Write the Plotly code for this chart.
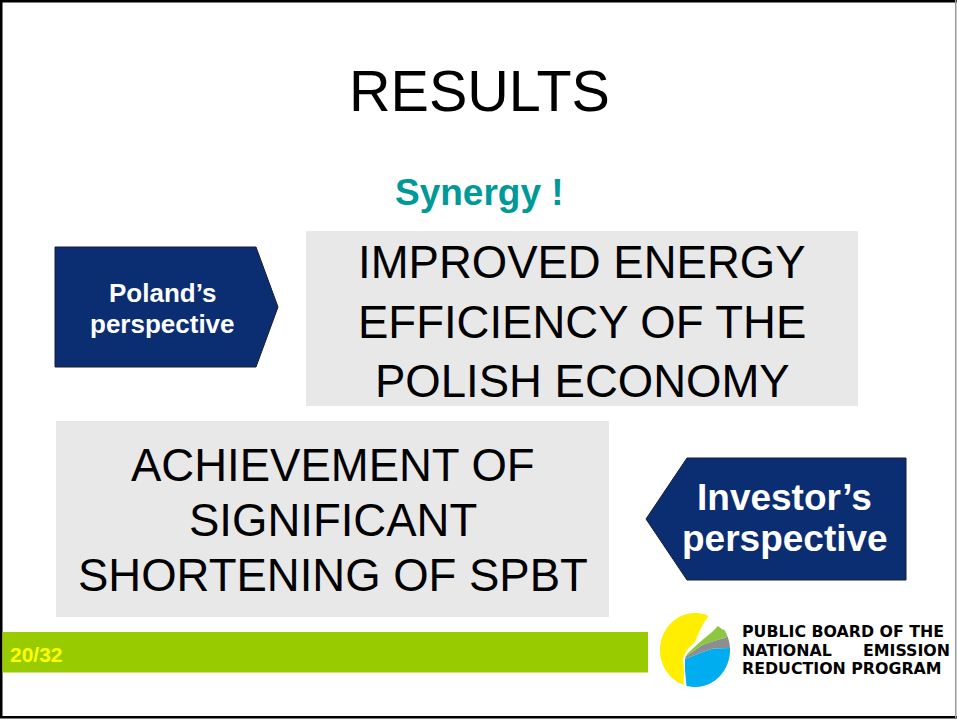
import numpy as np
import plotly.graph_objects as go

W, H = 957, 720

# ---- slide content ----
title_text = "RESULTS"
subtitle_text = "Synergy !"
box1_lines = ["IMPROVED ENERGY", "EFFICIENCY OF THE", "POLISH ECONOMY"]
box2_lines = ["ACHIEVEMENT OF", "SIGNIFICANT", "SHORTENING OF SPBT"]
left_arrow_lines = ["Poland’s", "perspective"]
right_arrow_lines = ["Investor’s", "perspective"]
page_label = "20/32"
logo_lines = ["PUBLIC BOARD OF THE", "NATIONAL", "EMISSION", "REDUCTION PROGRAM"]

FONT = "Liberation Sans, Arial, Helvetica, sans-serif"
LOGO_FONT = "DejaVu Sans, Liberation Sans, Arial, sans-serif"
NAVY = "#0B2D72"
GRAY_BOX = "#E8E8E8"
TEAL = "#009999"
GREEN_BAR = "#99CC00"

fig = go.Figure()
shapes = []
ann = []


def rect(x0, y0, x1, y1, color, line=None):
    shapes.append(dict(type="rect", xref="x", yref="y", x0=x0, y0=y0, x1=x1, y1=y1,
                       fillcolor=color, line=dict(width=0) if line is None else line,
                       layer="below"))


def poly(points, color, line=None):
    d = "M " + " L ".join(f"{x:.2f},{y:.2f}" for x, y in points) + " Z"
    shapes.append(dict(type="path", xref="x", yref="y", path=d, fillcolor=color,
                       line=dict(width=0) if line is None else line, layer="below"))


def arc(cx, cy, rx, ry, a0, a1, n=40):
    t = np.radians(np.linspace(a0, a1, n))
    return list(zip(cx + rx * np.cos(t), cy - ry * np.sin(t)))


def text(x, y, s, size, color="black", bold=False, xanchor="center", family=FONT):
    ann.append(dict(x=x, y=y, xref="x", yref="y", text=s, showarrow=False,
                    xanchor=xanchor, yanchor="middle",
                    font=dict(family=family, size=size, color=color,
                              weight="bold" if bold else "normal")))


# slide borders
rect(0, 0, W, 2.5, "black")
rect(0, 0, 2.5, 718, "black")
rect(0, 716, W, 718.5, "black")
rect(955, 0, 956.5, 718, "#9a9a9a")

# gray boxes
rect(306, 231, 858, 406, GRAY_BOX)
rect(56, 421, 609, 617, GRAY_BOX)

# arrows
edge = dict(color="#1c1c2c", width=1)
poly([(55, 247), (256, 247), (278, 307), (256, 367), (55, 367)], NAVY, edge)
poly([(906, 458), (687, 458), (646, 519), (687, 580), (906, 580)], NAVY, edge)

# green bar
rect(2.5, 632, 648, 672.5, GREEN_BAR)

# logo
cx, cy, rx, ry = 695, 650, 35, 37
yellow = arc(cx, cy, rx, ry, 67, 251) + [(684, 670), (683, 658), (687, 650),
                                         (695, 642), (700, 630), (705, 621)]
poly(yellow, "#FFEE00")
blue_top = [(685, 659), (700, 653), (713, 648.5)]
blue = blue_top + arc(cx, cy, rx, ry, 3, -104) + [(685, 670)]
poly(blue, "#00AEEF")
gray_top = [(686, 656), (703, 644.5), (717, 640), (726, 637.5)]
gray = gray_top + arc(cx, cy, rx, ry, 21.6, 3) + blue_top[::-1]
poly(gray, "#8C8E90")
green = [(688, 653), (700, 642), (712, 632), (718, 626), (723, 630)] + \
    arc(cx, cy, rx, ry, 34, 21.6) + gray_top[::-1]
poly(green, "#8DC63F")

# texts
text(479, 90.5, title_text, 57.5)
text(479, 192, subtitle_text, 37, TEAL, bold=True)
for yy, s in zip([262, 322, 381], box1_lines):
    text(582, yy, s, 45.5)
for yy, s in zip([465, 520, 575], box2_lines):
    text(332.5, yy, s, 45.5)
for yy, s in zip([292.5, 324], left_arrow_lines):
    text(162.5, yy, s, 26, "white", bold=True)
for yy, s in zip([497, 538], right_arrow_lines):
    text(784.5, yy, s, 37, "white", bold=True)
text(8, 654, page_label, 21, "#FFFF00", bold=True, xanchor="left")
LS = 15.8
text(739.5, 631.5, logo_lines[0], LS, bold=True, xanchor="left", family=LOGO_FONT)
text(739.5, 650, logo_lines[1], LS, bold=True, xanchor="left", family=LOGO_FONT)
text(951.5, 650, logo_lines[2], LS, bold=True, xanchor="right", family=LOGO_FONT)
text(739.5, 668.5, logo_lines[3], LS, bold=True, xanchor="left", family=LOGO_FONT)

fig.update_layout(
    width=W, height=H,
    margin=dict(l=0, r=0, t=0, b=0),
    paper_bgcolor="white", plot_bgcolor="white",
    xaxis=dict(range=[0, W], visible=False, fixedrange=True),
    yaxis=dict(range=[H, 0], visible=False, fixedrange=True),
    shapes=shapes, annotations=ann, showlegend=False,
)
fig.write_html(
    "out.html",
    config={"displayModeBar": False},
    post_script="document.body.style.margin='0';document.body.style.overflow='hidden';",
)
